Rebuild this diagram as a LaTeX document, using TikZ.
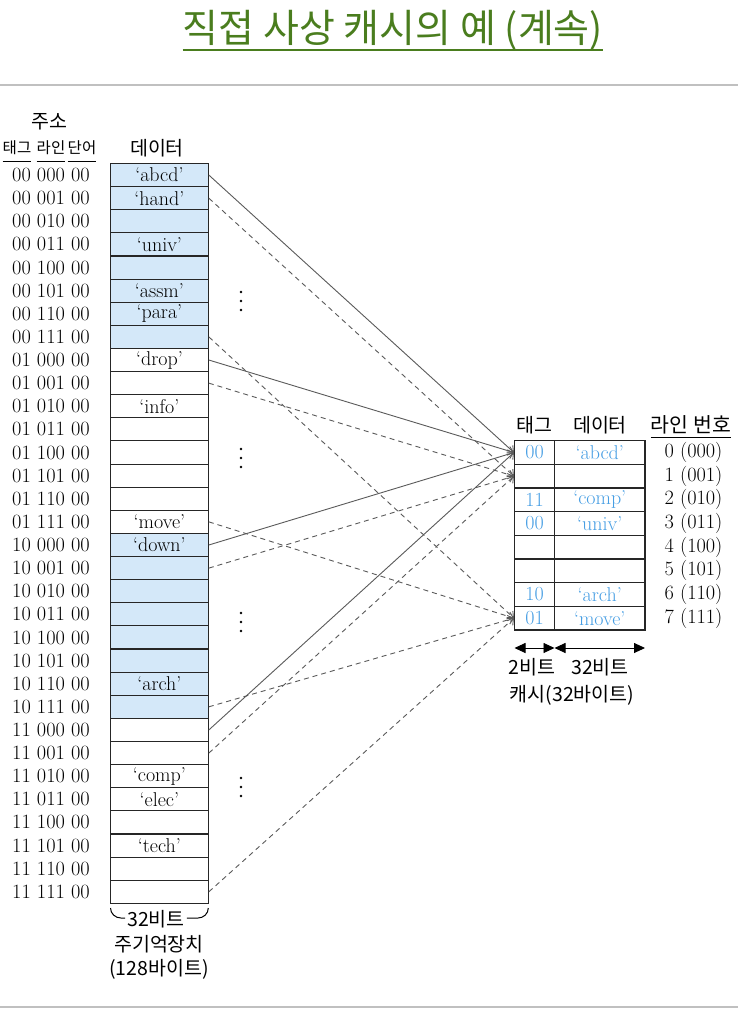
\documentclass[tikz,border=0pt]{standalone}
\usepackage{fontspec}
\newfontfamily\kr{Noto Sans CJK KR}
\usetikzlibrary{arrows.meta}
\definecolor{titlegreen}{RGB}{74,125,30}
\definecolor{cellblue}{RGB}{212,232,249}
\definecolor{txtblue}{RGB}{70,158,228}
\definecolor{linegray}{RGB}{90,90,90}
\definecolor{rulegray}{RGB}{192,192,192}
\tikzset{
  memcell/.style={draw=black!85, line width=1.1pt, minimum width=97.8pt, minimum height=23.12pt, inner sep=0pt, font=\fontsize{20}{22}\selectfont},
  cachecell/.style={draw=black!85, line width=1.1pt, minimum height=23.66pt, inner sep=0pt, text=txtblue, font=\fontsize{20}{22}\selectfont},
  addr/.style={inner sep=0pt, anchor=west, font=\fontsize{20.3}{22}\selectfont},
  krlab/.style={inner sep=0pt, font=\kr\fontsize{19.5}{22}\selectfont},
  krsmall/.style={inner sep=0pt, font=\kr\fontsize{15.5}{18}\selectfont},
  con/.style={draw=linegray, line width=0.9pt, -{Straight Barb[length=5pt,width=9pt]}},
  dcon/.style={con, dash pattern=on 5pt off 4pt},
  dimarrow/.style={draw=black, line width=0.9pt, {Triangle[length=11pt,width=10pt]}-{Triangle[length=11pt,width=10pt]}},
}
\begin{document}
\begin{tikzpicture}[x=1pt,y=-1pt]
\useasboundingbox (0,0) rectangle (738,1019);
\fill[white] (0,0) rectangle (738,1019);
% title
\node[inner sep=0pt, text=titlegreen, font=\kr\fontsize{39}{44}\selectfont] (title) at (393,30) {직접 사상 캐시의 예 (계속)};
\draw[titlegreen, line width=1.8pt] (title.west |- 0,50) -- (title.east |- 0,50);
\draw[rulegray, line width=2.5pt] (0,85) -- (738,85);
\draw[rulegray, line width=2.5pt] (0,1007) -- (738,1007);
% left headers
\node[krlab] (hjuso) at (49,122) {주소};
\node[krsmall] (htag) at (17,148) {태그};
\node[krsmall] (hline) at (51,148) {라인};
\node[krsmall] (hword) at (82,148) {단어};
\foreach \h in {htag,hline,hword}
  \draw[line width=0.8pt] (\h.west |- 0,161) -- (\h.east |- 0,161);
\node[krlab] (hdata) at (157,148) {데이터};
% memory
\foreach \tg [count=\a from 0] in {00,01,10,11}
  \foreach \ln [count=\b from 0] in {000,001,010,011,100,101,110,111} {
    \pgfmathtruncatemacro\i{8*\a+\b}
    \pgfmathsetmacro\yy{163.5+23.12*(\i+0.5)}
    \ifodd\a \def\fc{white}\else\def\fc{cellblue}\fi
    \node[addr] (a\i) at (12,\yy) {\tg\ \ln\ 00};
    \node[memcell, fill=\fc] (m\i) at (159.4,\yy) {\ifcase\i\relax `abcd'\or `hand'\or\or `univ'\or\or `assm'\or `para'\or\or `drop'\or\or `info'\or\or\or\or\or `move'\or `down'\or\or\or\or\or\or `arch'\or\or\or\or `comp'\or `elec'\or\or `tech'\else\fi};
  }
% dots
\foreach \y in {301,458,622,787}
  \foreach \d in {-9,0,9}
    \fill (241,\y+\d) circle (1.4);
% brace under memory
\node[krlab] (mbits) at (156,919) {32비트};
\draw[line width=1pt] (110.5,908) to[out=-90,in=180] (121,918) -- ([xshift=-2pt]mbits.west |- 0,918);
\draw[line width=1pt] ([xshift=2pt]mbits.east |- 0,918) -- (198,918) to[out=0,in=-90] (208.3,908);
\node[krlab] (mname) at (159,944) {주기억장치};
\node[krlab] (msize) at (159,969) {(128바이트)};
% cache headers
\node[krlab] (ctag) at (534,425) {태그};
\node[krlab] (cdata) at (600,425) {데이터};
\node[krlab, font=\kr\fontsize{20.5}{22}\selectfont] (cline) at (691,425) {라인 번호};
\draw[line width=0.8pt] (cline.west |- 0,437) -- (cline.east |- 0,437);
% cache
\foreach \ln [count=\b from 0] in {000,001,010,011,100,101,110,111} {
  \pgfmathsetmacro\yy{440.7+23.66*(\b+0.5)}
  \node[cachecell, minimum width=40pt] (t\b) at (534.5,\yy) {\ifcase\b\relax 00\or\or 11\or 00\or\or\or 10\or 01\else\fi};
  \node[cachecell, minimum width=90.5pt] (d\b) at (599.75,\yy) {\ifcase\b\relax `abcd'\or\or `comp'\or `univ'\or\or\or `arch'\or `move'\else\fi};
  \node[inner sep=0pt, font=\fontsize{20.3}{22}\selectfont] (n\b) at (693.5,\yy) {\b\ (\ln)};
}
% dimension arrows
\coordinate (dA) at (514.5,648);
\coordinate (dB) at (554.5,648);
\coordinate (dC) at (645,648);
\draw[dimarrow] (dA) -- (dB);
\draw[dimarrow] (dB) -- (dC);
\node[krlab] (tbits) at (532,667) {2비트};
\node[krlab] (dbits) at (600,667) {32비트};
\node[krlab] (cname) at (572,695) {캐시(32바이트)};
% connectors
\foreach \k in {0,8,16,24} \draw[con] (m\k.east) -- (t0.west);
\foreach \k in {1,9,17,25} \draw[dcon] (m\k.east) -- (t1.west);
\foreach \k in {7,15,23,31} \draw[dcon] (m\k.east) -- (t7.west);
\end{tikzpicture}
\end{document}
